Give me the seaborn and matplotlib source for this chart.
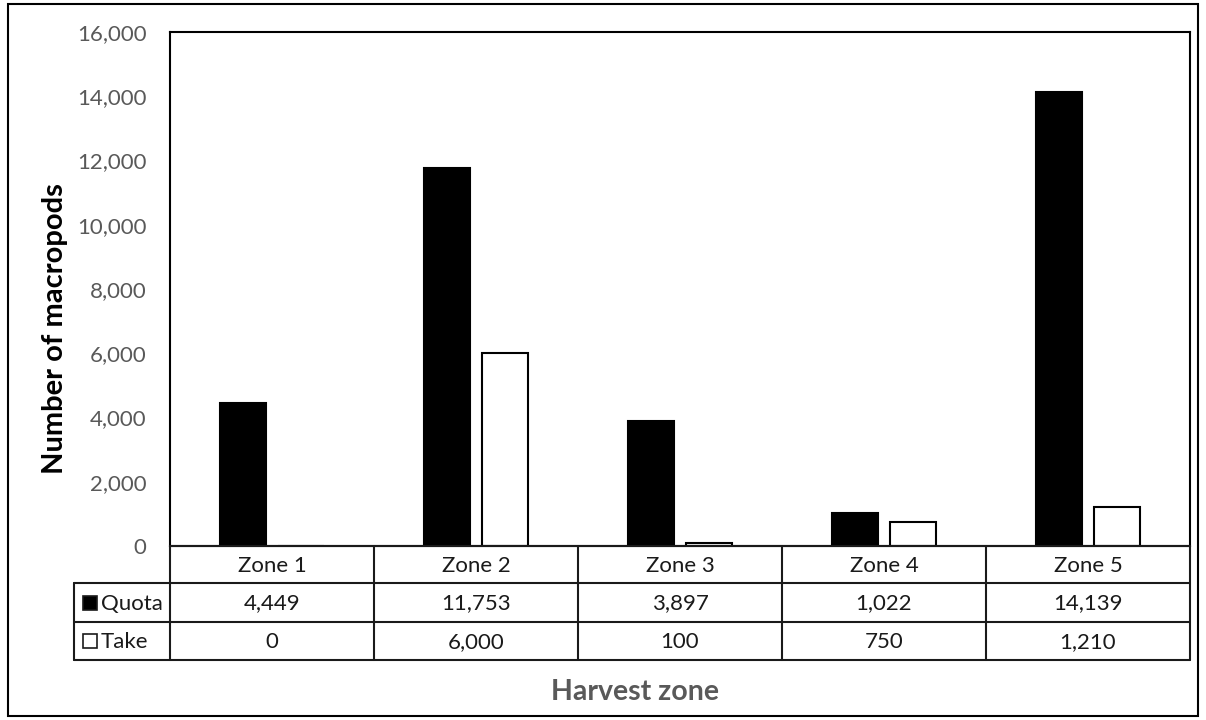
import matplotlib
matplotlib.use("Agg")
import matplotlib.pyplot as plt
import seaborn as sns
import pandas as pd
from matplotlib.patches import Rectangle

zones = ["Zone 1", "Zone 2", "Zone 3", "Zone 4", "Zone 5"]
quota = [4449, 11753, 3897, 1022, 14139]
take = [0, 6000, 100, 750, 1210]
series = ["Quota", "Take"]
yticks = [0, 2000, 4000, 6000, 8000, 10000, 12000, 14000, 16000]

sns.set_theme(style="white")
plt.rcParams["font.family"] = ["Lato", "DejaVu Sans"]

W, H = 1206, 720
fig = plt.figure(figsize=(W / 100, H / 100), dpi=100)

def fx(px):
    return px / W

def fy(py):
    return 1 - py / H

# outer chart border
fig.patches.append(Rectangle((fx(8), fy(716)), fx(1198) - fx(8), fy(4) - fy(716),
                             transform=fig.transFigure, fill=False,
                             edgecolor="#000000", linewidth=1.5))

L, R, T, B = 170, 1190, 32, 546
ax = fig.add_axes([fx(L), fy(B), fx(R) - fx(L), fy(T) - fy(B)])

df = pd.DataFrame({
    "zone": zones * 2,
    "series": [series[0]] * len(zones) + [series[1]] * len(zones),
    "value": quota + take,
})
sns.barplot(data=df, x="zone", y="value", hue="series", order=zones,
            hue_order=series, palette={"Quota": "#000000", "Take": "#ffffff"},
            width=0.57, gap=0.2, edgecolor="#000000", linewidth=1.5,
            legend=False, ax=ax)

ax.set_xlim(-0.5, len(zones) - 0.5)
ax.set_ylim(0, 16000)
ax.set_yticks(yticks)
ax.set_yticklabels([f"{v:,}" for v in yticks], color="#595959", fontsize=16)
ax.tick_params(axis="y", length=0, pad=17)
ax.set_xticks([])
ax.set_xlabel("")
ax.set_ylabel("")
for s in ax.spines.values():
    s.set_color("#000000")
    s.set_linewidth(1.5)

# data table
tab = fig.add_axes([fx(74), fy(660), fx(1190) - fx(74), fy(546) - fy(660)])
tab.set_xlim(74, 1190)
tab.set_ylim(660, 546)
tab.axis("off")
rows = [546, 583, 622, 660]
colw = (R - L) / len(zones)
cols = [L + i * colw for i in range(len(zones) + 1)]
lw = 1.5
tab.plot([L, R], [rows[0], rows[0]], color="k", lw=lw, clip_on=False)
for y in rows[1:]:
    tab.plot([74, R], [y, y], color="k", lw=lw, clip_on=False)
for x in cols:
    tab.plot([x, x], [rows[0], rows[3]], color="k", lw=lw, clip_on=False)
tab.plot([74, 74], [rows[1], rows[3]], color="k", lw=lw, clip_on=False)

fs = 16
for i, z in enumerate(zones):
    cx = (cols[i] + cols[i + 1]) / 2
    tab.text(cx, (rows[0] + rows[1]) / 2 + 1, z, ha="center", va="center", fontsize=fs, color="k")
    tab.text(cx, (rows[1] + rows[2]) / 2 + 1, f"{quota[i]:,}", ha="center", va="center", fontsize=fs, color="k")
    tab.text(cx, (rows[2] + rows[3]) / 2 + 1, f"{take[i]:,}", ha="center", va="center", fontsize=fs, color="k")

for r, (name, fc) in enumerate(zip(series, ["#000000", "#ffffff"])):
    yc = (rows[1 + r] + rows[2 + r]) / 2
    tab.add_patch(Rectangle((83, yc - 7), 14, 14, facecolor=fc, edgecolor="k", lw=1.2, clip_on=False))
    tab.text(101, yc + 1, name, ha="left", va="center", fontsize=fs, color="k")

fig.text(fx(635), fy(692), "Harvest zone", ha="center", va="center",
         fontsize=20.5, fontweight="bold", color="#595959")
fig.text(fx(55), fy(329), "Number of macropods", ha="center", va="center",
         rotation=90, fontsize=21, fontweight="bold", color="#000000")

fig.savefig("out.png", dpi=100, facecolor="white")
